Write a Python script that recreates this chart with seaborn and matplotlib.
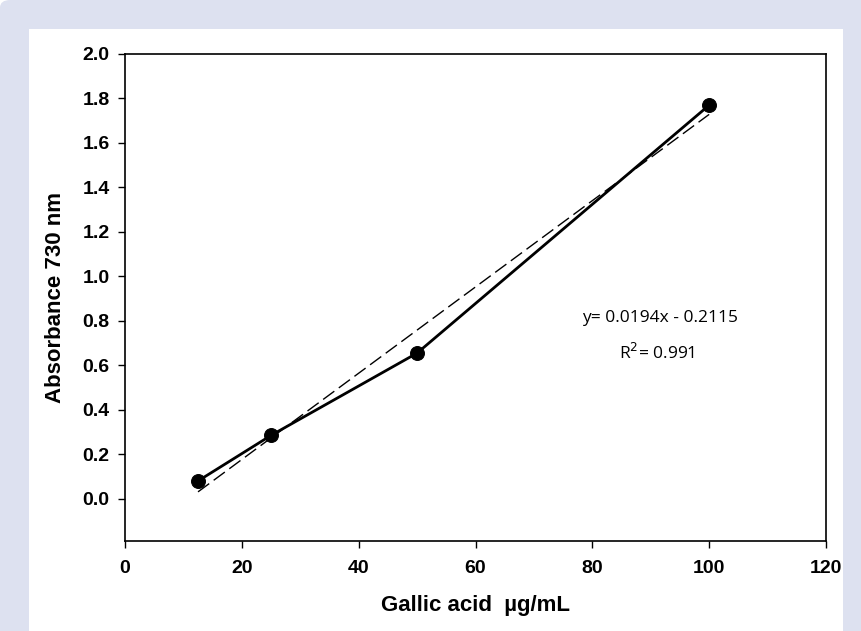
import numpy as np
import pandas as pd
import matplotlib
matplotlib.use("Agg")
import matplotlib.pyplot as plt
import seaborn as sns
from matplotlib.patches import FancyBboxPatch, Rectangle

sns.set_style("ticks")
plt.rcParams['font.family'] = ['Liberation Sans', 'DejaVu Sans']
plt.rcParams['text.color'] = 'black'
plt.rcParams['axes.labelcolor'] = 'black'
plt.rcParams['xtick.color'] = 'black'
plt.rcParams['ytick.color'] = 'black'

# data
conc = [12.5, 25, 50, 100]
absorb = [0.08, 0.285, 0.655, 1.77]
slope = 0.0194
intercept = -0.2115
eq_text = "y= 0.0194x - 0.2115"
r2_text = "R$^2$= 0.991"
x_ticks = [0, 20, 40, 60, 80, 100, 120]
y_ticks = [0.0, 0.2, 0.4, 0.6, 0.8, 1.0, 1.2, 1.4, 1.6, 1.8, 2.0]

df = pd.DataFrame({"conc": conc, "abs": absorb})
fit_x = [conc[0], conc[-1]]
fit = pd.DataFrame({"conc": fit_x, "abs": [slope * v + intercept for v in fit_x]})

fig = plt.figure(figsize=(8.61, 6.31), dpi=100)
fig.patch.set_facecolor("white")
# lavender frame and white panel behind the plot
fig.patches.append(FancyBboxPatch((0.0, -0.05), 1.05, 1.05, boxstyle="round,pad=0,rounding_size=0.012",
                                  transform=fig.transFigure, facecolor="#dde1f0", edgecolor="none", zorder=-2))
fig.patches.append(Rectangle((29 / 861, 0), (843 - 29) / 861, (631 - 29) / 631,
                             transform=fig.transFigure, facecolor="white", edgecolor="none", zorder=-1))

ax = fig.add_axes([125 / 861, 1 - 541 / 631, (826 - 125) / 861, (541 - 54) / 631])
ax.set_facecolor("white")

sns.lineplot(data=fit, x="conc", y="abs", ax=ax, color="black", linewidth=1.0,
             dashes=False, linestyle=(0, (10, 4)))
sns.lineplot(data=df, x="conc", y="abs", ax=ax, color="black", linewidth=2.0,
             marker="o", markersize=10, markeredgecolor="black")

ax.set_xlim(0, 120)
ax.set_ylim(-0.19, 2.0)
ax.set_xticks(x_ticks)
ax.set_yticks(y_ticks)
ax.set_xticklabels([str(v) for v in x_ticks], fontweight="bold", fontsize=14)
ax.set_yticklabels([f"{v:.1f}" for v in y_ticks], fontweight="bold", fontsize=14)
ax.tick_params(axis="both", direction="out", length=5, width=1, top=False, right=False)
ax.tick_params(axis="y", pad=6)
ax.tick_params(axis="x", pad=9)
for s in ax.spines.values():
    s.set_linewidth(1.2)
    s.set_color("black")

ax.set_xlabel("Gallic acid  \u00b5g/mL", fontweight="bold", fontsize=16, labelpad=13)
ax.set_ylabel("Absorbance 730 nm", fontweight="bold", fontsize=16, labelpad=12)

ax.text(91.6, 0.815, eq_text, fontsize=12.5, ha="center", va="center", family=["Open Sans", "DejaVu Sans"])
ax.text(91.0, 0.655, r2_text, fontsize=12.5, ha="center", va="center", family=["Open Sans", "DejaVu Sans"])

fig.savefig("out.png", dpi=100)
